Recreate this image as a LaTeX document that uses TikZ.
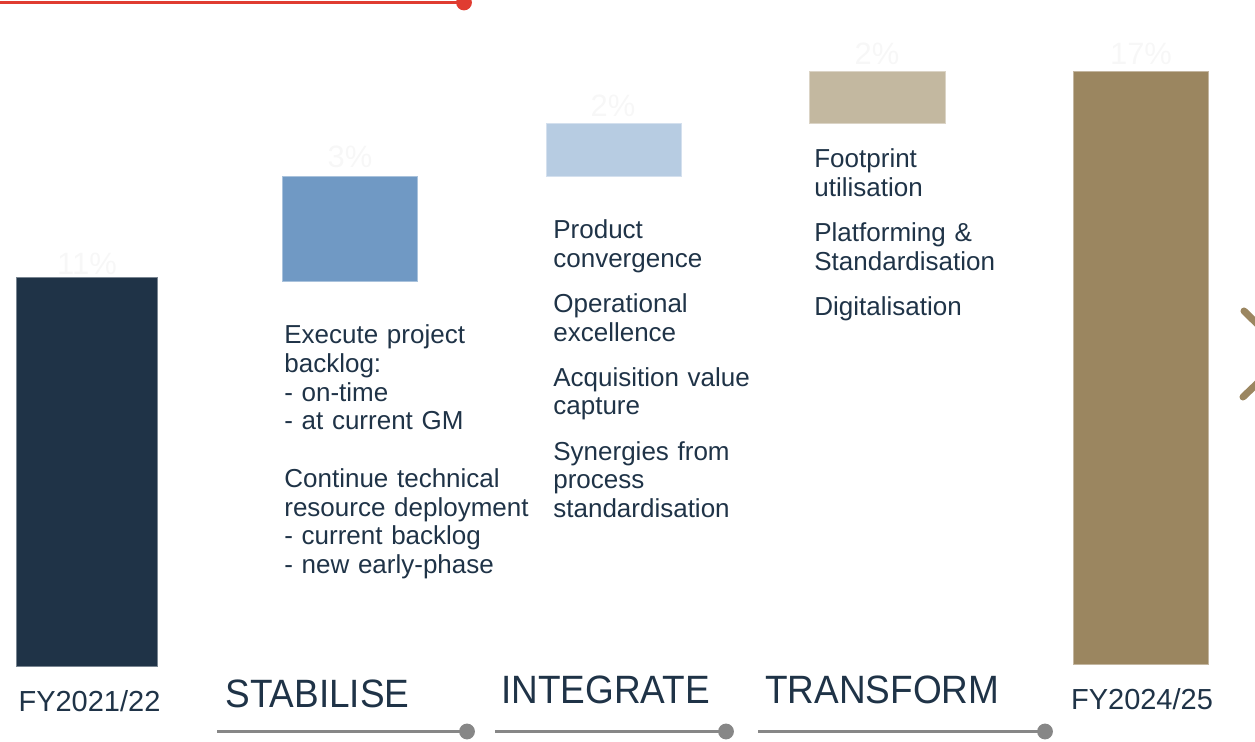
\documentclass[tikz,border=0pt]{standalone}
\usepackage{fontspec}
\setmainfont{Liberation Sans}
\usepackage{xcolor}
\usetikzlibrary{positioning}

\definecolor{navy}{HTML}{1F3347}
\definecolor{stabblue}{HTML}{7099C4}
\definecolor{intblue}{HTML}{B7CCE2}
\definecolor{transsand}{HTML}{C3B8A0}
\definecolor{goldbar}{HTML}{9B8660}
\definecolor{trackgray}{HTML}{878787}
\definecolor{topred}{HTML}{E03C31}

\begin{document}
\begin{tikzpicture}[x=0.02cm, y=-0.02cm,
    every node/.style={inner sep=0pt, text=navy},
    bar/.style={fill=#1, draw=#1!60!white, line width=0.5pt, anchor=north west},
    pct/.style={anchor=base, text=white!97!black, font=\fontsize{17.6pt}{20pt}\selectfont},
    fy/.style={anchor=base, font=\fontsize{16.5pt}{19pt}\selectfont},
    phase/.style={anchor=base west, font=\fontsize{22.5pt}{26pt}\selectfont},
    body/.style={anchor=north west, align=left, text width=6cm,
        font=\fontsize{14.8pt}{16.35pt}\selectfont},
    track/.style={draw=trackgray, line width=1.7pt}]

    \clip (0,0) rectangle (1255,742);

    % red line at the top
    \draw[topred, line width=1.7pt] (0,2.5) -- (464,2.5);
    \fill[topred] (464,2.5) circle (4.5pt);

    % bars
    \node[bar=navy, minimum width=2.82cm, minimum height=7.78cm] (fy21bar) at (16,277) {};
    \node[bar=stabblue, minimum width=2.70cm, minimum height=2.10cm] (stabbar) at (282,176) {};
    \node[bar=intblue, minimum width=2.70cm, minimum height=1.06cm] (intbar) at (546,123) {};
    \node[bar=transsand, minimum width=2.72cm, minimum height=1.04cm] (transbar) at (809,71) {};
    \node[bar=goldbar, minimum width=2.70cm, minimum height=11.86cm] (fy25bar) at (1073,71) {};

    \node[pct] (fy21pct) at (87,275) {11\%};
    \node[pct] (stabpct) at (350,168) {3\%};
    \node[pct] (intpct) at (613,117) {2\%};
    \node[pct] (transpct) at (877,65) {2\%};
    \node[pct] (fy25pct) at (1141,65) {17\%};

    % bullet texts
    \node[body] (stabtext) at (284,324.5) {Execute project\\backlog:\\- on-time\\- at current GM\\[16.35pt]
        Continue technical\\resource deployment\\- current backlog\\- new early-phase};
    \node[body] (inttext) at (553,219.5) {Product\\convergence\\[9.3pt]
        Operational\\excellence\\[9.3pt]
        Acquisition value\\capture\\[9.3pt]
        Synergies from\\process\\standardisation};
    \node[body] (transtext) at (814,148.5) {Footprint\\utilisation\\[9.3pt]
        Platforming \&\\Standardisation\\[9.3pt]
        Digitalisation};

    % labels at the bottom
    \node[fy] (fy21) at (89.5,712) {FY2021/22};
    \node[fy] (fy25) at (1142,710) {FY2024/25};
    \node[phase] (stab) at (225,708) {\scalebox{0.935}[1]{STABILISE}};
    \node[phase] (integ) at (501,704) {\scalebox{0.935}[1]{INTEGRATE}};
    \node[phase] (trans) at (765,704) {\scalebox{0.935}[1]{TRANSFORM}};

    % phase tracks
    \coordinate (stabA) at (217,731.5);
    \coordinate (stabB) at (467,731.5);
    \coordinate (intA) at (495,731.5);
    \coordinate (intB) at (726,731.5);
    \coordinate (transA) at (758,731.5);
    \coordinate (transB) at (1045,731.5);
    \foreach \a/\b in {stabA/stabB, intA/intB, transA/transB} {
        \draw[track] (\a) -- (\b);
        \fill[trackgray] (\b) circle (4.5pt);
    }

    % chevron on the right edge
    \draw[goldbar, line width=4pt, line cap=round, line join=round]
        (1244,311) -- (1288,354) -- (1243,397);
\end{tikzpicture}
\end{document}
